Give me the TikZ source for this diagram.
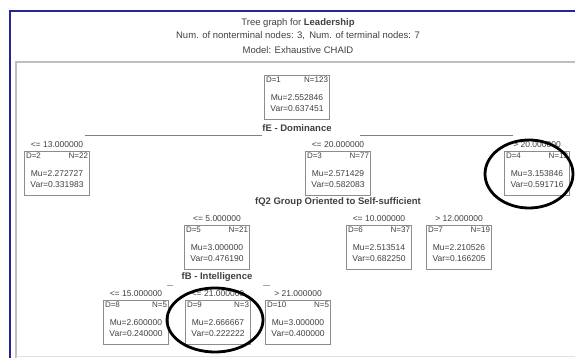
\documentclass[tikz,border=0pt]{standalone}
\usepackage{fontspec}
\setmainfont{Liberation Sans}
\usetikzlibrary{positioning}

\begin{document}
\begin{tikzpicture}[x=1pt,y=-1pt]
	\tikzstyle{every node}=[font=\fontsize{8.5}{10.5}\selectfont, text=black!75, inner sep=0pt]
	\tikzstyle{kasten}=[draw=black!45, minimum width=65pt, minimum height=44pt]
	\tikzstyle{ecke}=[font=\fontsize{8}{9}\selectfont, inner sep=1.5pt]
	\tikzstyle{werte}=[align=center]
	\tikzstyle{split}=[font=\fontsize{9.5}{11}\selectfont\bfseries]
	\tikzstyle{kreis}=[line width=2.8pt, black]
	\useasboundingbox (0,0) rectangle (575,358);
	
	%Rahmen
	\draw[blue!50!black!85, line width=1.3pt] (10,358) -- (10,11) -- (575,11);
	\draw[black!25, line width=2pt] (16,358) -- (16,62) -- (575,62);
	\draw[black!12, line width=0.8pt] (16,356) -- (575,356);
	
	%Titel
	\node[font=\fontsize{9.5}{11}\selectfont] (t1) at (298,23) {Tree graph for \textbf{Leadership}};
	\node[font=\fontsize{9.5}{11}\selectfont] (t2) at (298,36) {Num. of nonterminal nodes: 3,\, Num. of terminal nodes: 7};
	\node[font=\fontsize{9.5}{11}\selectfont] (t3) at (298,50) {Model: Exhaustive CHAID};
	
	%Knoten
	\node[kasten] (d1) at (297,97) {};
	\node[ecke, anchor=north west] (d1l) at (d1.north west) {D=1};
	\node[ecke, anchor=north east] (d1r) at (d1.north east) {N=123};
	\node[werte] (d1w) at ([yshift=-6pt]d1.center) {Mu=2.552846\\Var=0.637451};
	
	\node[kasten] (d2) at (57,173) {};
	\node[ecke, anchor=north west] (d2l) at (d2.north west) {D=2};
	\node[ecke, anchor=north east] (d2r) at (d2.north east) {N=22};
	\node[werte] (d2w) at ([yshift=-6pt]d2.center) {Mu=2.272727\\Var=0.331983};
	\node[above=3pt of d2] (g2) {<= 13.000000};
	
	\node[kasten] (d3) at (338,173) {};
	\node[ecke, anchor=north west] (d3l) at (d3.north west) {D=3};
	\node[ecke, anchor=north east] (d3r) at (d3.north east) {N=77};
	\node[werte] (d3w) at ([yshift=-6pt]d3.center) {Mu=2.571429\\Var=0.582083};
	\node[above=3pt of d3] (g3) {<= 20.000000};
	
	\node[kasten] (d4) at (537,173) {};
	\node[ecke, anchor=north west] (d4l) at (d4.north west) {D=4};
	\node[ecke, anchor=north east] (d4r) at (d4.north east) {N=13};
	\node[werte] (d4w) at ([yshift=-6pt]d4.center) {Mu=3.153846\\Var=0.591716};
	\node[above=3pt of d4] (g4) {> 20.000000};
	
	\node[kasten] (d5) at (217,247) {};
	\node[ecke, anchor=north west] (d5l) at (d5.north west) {D=5};
	\node[ecke, anchor=north east] (d5r) at (d5.north east) {N=21};
	\node[werte] (d5w) at ([yshift=-6pt]d5.center) {Mu=3.000000\\Var=0.476190};
	\node[above=3pt of d5] (g5) {<= 5.000000};
	
	\node[kasten] (d6) at (379,247) {};
	\node[ecke, anchor=north west] (d6l) at (d6.north west) {D=6};
	\node[ecke, anchor=north east] (d6r) at (d6.north east) {N=37};
	\node[werte] (d6w) at ([yshift=-6pt]d6.center) {Mu=2.513514\\Var=0.682250};
	\node[above=3pt of d6] (g6) {<= 10.000000};
	
	\node[kasten] (d7) at (459,247) {};
	\node[ecke, anchor=north west] (d7l) at (d7.north west) {D=7};
	\node[ecke, anchor=north east] (d7r) at (d7.north east) {N=19};
	\node[werte] (d7w) at ([yshift=-6pt]d7.center) {Mu=2.210526\\Var=0.166205};
	\node[above=3pt of d7] (g7) {> 12.000000};
	
	\node[kasten] (d8) at (136,322) {};
	\node[ecke, anchor=north west] (d8l) at (d8.north west) {D=8};
	\node[ecke, anchor=north east] (d8r) at (d8.north east) {N=5};
	\node[werte] (d8w) at ([yshift=-6pt]d8.center) {Mu=2.600000\\Var=0.240000};
	\node[above=3pt of d8] (g8) {<= 15.000000};
	
	\node[kasten] (d9) at (218,322) {};
	\node[ecke, anchor=north west] (d9l) at (d9.north west) {D=9};
	\node[ecke, anchor=north east] (d9r) at (d9.north east) {N=3};
	\node[werte] (d9w) at ([yshift=-6pt]d9.center) {Mu=2.666667\\Var=0.222222};
	\node[above=3pt of d9] (g9) {<= 21.000000};
	
	\node[kasten] (d10) at (298,322) {};
	\node[ecke, anchor=north west] (d10l) at (d10.north west) {D=10};
	\node[ecke, anchor=north east] (d10r) at (d10.north east) {N=5};
	\node[werte] (d10w) at ([yshift=-6pt]d10.center) {Mu=3.000000\\Var=0.400000};
	\node[above=3pt of d10] (g10) {> 21.000000};
	
	%Splits
	\node[split] (s1) at (297,128) {fE - Dominance};
	\node[split] (s2) at (338,202) {fQ2 Group Oriented to Self-sufficient};
	\node[split] (s3) at (217,277) {fB - Intelligence};
	\coordinate (s1a) at (85,135);
	\coordinate (s1b) at (513,135);
	\draw[black!50, line width=0.9pt] (s1a) -- (s1.west |- s1a) (s1.east |- s1b) ++(28,0) -- (s1b);
	\coordinate (s3a) at (167,285);
	\coordinate (s3b) at (270,285);
	\draw[black!35, line width=0.8pt] (s3a) -- ++(6,0) (s3b) -- ++(-7,0);
	
	%Markierungen
	\draw[kreis] (529,174) ellipse (44 and 34);
	\draw[kreis] (215,320) ellipse (48 and 32);
	
\end{tikzpicture}
\end{document}
